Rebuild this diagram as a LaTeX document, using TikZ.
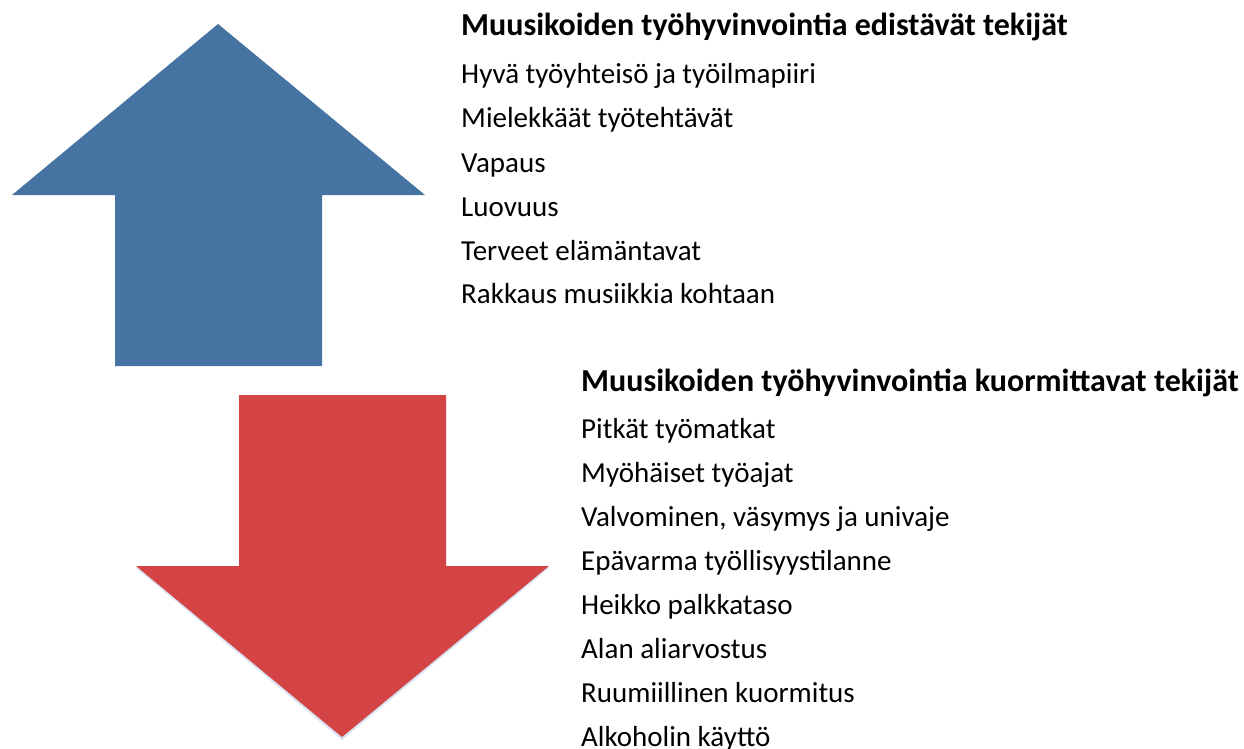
\documentclass[tikz,border=0pt]{standalone}
\usepackage{fontspec}
\setmainfont{Carlito}
\definecolor{upblue}{RGB}{70,116,162}
\definecolor{downred}{RGB}{212,68,68}
\definecolor{glow}{RGB}{190,210,235}
\begin{document}
\begin{tikzpicture}[x=1pt,y=-1pt,
  heading/.style={anchor=base west,inner sep=0pt,font=\fontsize{32}{38}\selectfont\bfseries},
  item/.style={anchor=base west,inner sep=0pt,font=\fontsize{29}{35}\selectfont}]
\useasboundingbox (0,0) rectangle (1244,749);
% up arrow
\fill[upblue] (218,24) -- (425,195) -- (322,195) -- (322,366) -- (115,366) -- (115,195) -- (12,195) -- cycle;
% down arrow with faint glow
\fill[glow,opacity=0.6] (239,397) -- (446,397) -- (446,568) -- (549,568) -- (342,740) -- (136,568) -- (239,568) -- cycle;
\fill[downred] (239,395) -- (446,395) -- (446,566) -- (549,566) -- (342,737) -- (136,566) -- (239,566) -- cycle;
% upper text
\node[heading] (h1) at (461,36) {Muusikoiden työhyvinvointia edistävät tekijät};
\node[item] (a1) at (461,84) {Hyvä työyhteisö ja työilmapiiri};
\node[item] (a2) at (461,128) {Mielekkäät työtehtävät};
\node[item] (a3) at (461,172) {Vapaus};
\node[item] (a4) at (461,216) {Luovuus};
\node[item] (a5) at (461,260) {Terveet elämäntavat};
\node[item] (a6) at (461,303) {Rakkaus musiikkia kohtaan};
% lower text
\node[heading] (h2) at (581,391) {Muusikoiden työhyvinvointia kuormittavat tekijät};
\node[item] (b1) at (581,438) {Pitkät työmatkat};
\node[item] (b2) at (581,482) {Myöhäiset työajat};
\node[item] (b3) at (581,526) {Valvominen, väsymys ja univaje};
\node[item] (b4) at (581,570) {Epävarma työllisyystilanne};
\node[item] (b5) at (581,614) {Heikko palkkataso};
\node[item] (b6) at (581,658) {Alan aliarvostus};
\node[item] (b7) at (581,702) {Ruumiillinen kuormitus};
\node[item] (b8) at (581,746) {Alkoholin käyttö};
\end{tikzpicture}
\end{document}
